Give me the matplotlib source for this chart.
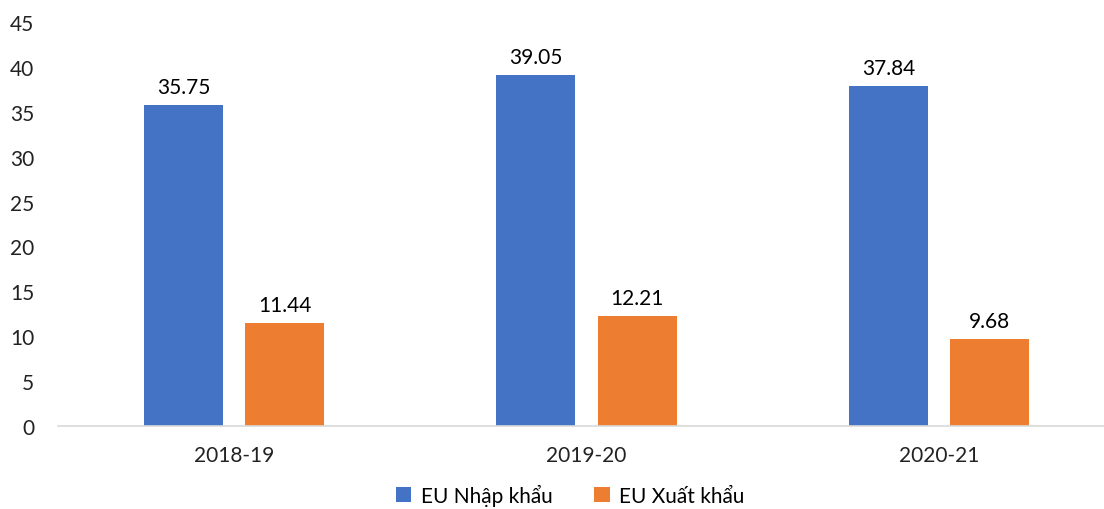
import matplotlib
matplotlib.use("Agg")
import matplotlib.pyplot as plt
import numpy as np

categories = ["2018-19", "2019-20", "2020-21"]
imports = [35.75, 39.05, 37.84]
exports = [11.44, 12.21, 9.68]
series_names = ["EU Nhập khẩu", "EU Xuất khẩu"]
yticks = [0, 5, 10, 15, 20, 25, 30, 35, 40, 45]

plt.rcParams['font.family'] = ['Lato', 'DejaVu Sans']

fig = plt.figure(figsize=(11.04, 5.10), dpi=100)
ax = fig.add_axes([58/1104, 83/510, 1 - 58/1104, (427-23)/510])

x = np.arange(len(categories))
w = 0.224
off = 0.1435
blue = "#4472C4"
orange = "#ED7D31"
fs = 15
b1 = ax.bar(x - off, imports, w, color=blue, label=series_names[0])
b2 = ax.bar(x + off, exports, w, color=orange, label=series_names[1])

for bars, vals in ((b1, imports), (b2, exports)):
    for r, v in zip(bars, vals):
        ax.annotate(f"{v:.2f}", (r.get_x() + r.get_width()/2, v),
                    xytext=(0, 6), textcoords="offset points",
                    ha="center", va="bottom", fontsize=fs, color="#000000")

ax.set_ylim(0, 45)
ax.set_xlim(-0.5, 2.5 - 11/352)
ax.set_yticks(yticks)
ax.set_xticks(x)
ax.set_xticklabels(categories)
for s in ["top", "right", "left"]:
    ax.spines[s].set_visible(False)
ax.spines["bottom"].set_color("#D9D9D9")
ax.spines["bottom"].set_linewidth(1.2)
ax.tick_params(axis="y", length=0, pad=17, labelsize=fs, labelcolor="#222222")
ax.tick_params(axis="x", length=0, pad=14, labelsize=fs, labelcolor="#222222")

leg = fig.legend(handles=[b1, b2], loc="center", bbox_to_anchor=(570/1104, 1 - 496/510),
                 ncol=2, frameon=False, fontsize=fs, handlelength=0.75, handleheight=0.75,
                 columnspacing=2.0, handletextpad=0.45)

fig.savefig("out.png", dpi=100)
